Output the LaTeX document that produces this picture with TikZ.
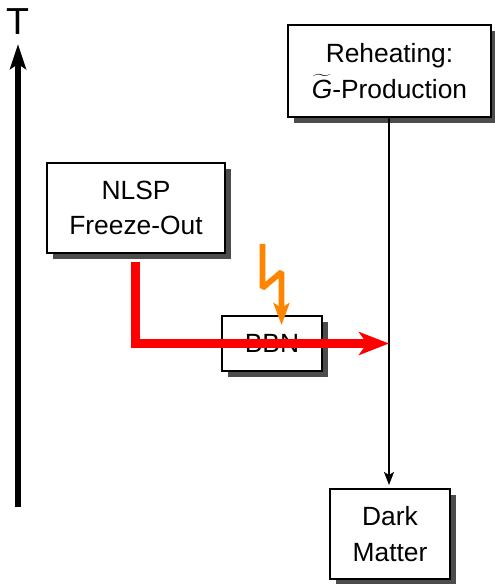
\documentclass[tikz,border=0pt]{standalone}
\usepackage{fontspec}
\setmainfont{Liberation Sans}
\usetikzlibrary{arrows.meta,shadows}
\tikzset{
    boxnode/.style={draw,fill=white,align=center,inner sep=0pt,line width=1.1pt,
        font=\fontsize{15}{20.2}\selectfont,
        drop shadow={shadow xshift=0.12cm,shadow yshift=-0.12cm,fill=black!70,opacity=1}},
    heatarrow/.style={red,line width=4.8pt,-{Stealth[length=0.6cm,width=0.46cm,inset=0.16cm]}},
    deckarrow/.style={orange,line width=3.2pt,line join=bevel,-{Stealth[length=0.44cm,width=0.32cm,inset=0.1cm]}},
}
\definecolor{orange}{RGB}{255,132,0}
\begin{document}
\begin{tikzpicture}
    \useasboundingbox (0,0) rectangle (9.9,11.68);
    \node[font=\fontsize{21.4}{22}\selectfont,inner sep=0pt] (tlabel) at (0.35,11.25) {T};
    \coordinate (tbottom) at (0.36,1.54);
    \coordinate (ttop) at (0.36,10.8);
    \draw[line width=3.4pt,-{Stealth[length=0.5cm,width=0.32cm,inset=0.1cm]}] (tbottom) -- (ttop);
    \node[boxnode,minimum width=4.06cm,minimum height=1.84cm] (reheat) at (7.79,10.26) {Reheating:\\\(\widetilde{\hbox{\textit{G}}}\)-Production};
    \node[boxnode,minimum width=3.56cm,minimum height=1.8cm] (nlsp) at (2.72,7.52) {NLSP\\Freeze-Out};
    \node[boxnode,minimum width=2cm,minimum height=1.1cm] (bbn) at (5.44,4.81) {BBN};
    \node[boxnode,minimum width=2.4cm,minimum height=1.8cm] (dark) at (7.8,1.0) {Dark\\Matter};
    \draw[line width=1.1pt,-{Stealth[length=0.26cm,width=0.2cm,inset=0.06cm]}] (7.78,9.34) -- (7.78,1.98);
    \coordinate (redstart) at (2.71,6.44);
    \coordinate (redcorner) at (2.71,4.81);
    \coordinate (redend) at (7.78,4.81);
    \draw[heatarrow] (redstart) -- (redcorner) -- (redend);
    \coordinate (zap) at (5.25,6.8);
    \draw[deckarrow] (zap) -- (5.25,5.92) -- (5.63,6.24) -- (5.63,5.18);
\end{tikzpicture}
\end{document}
